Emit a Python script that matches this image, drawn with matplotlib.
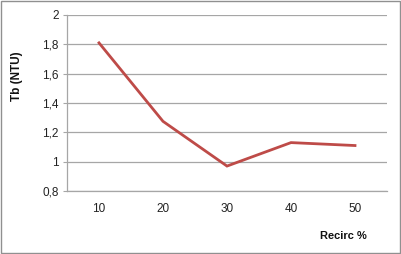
import matplotlib
matplotlib.use("Agg")
import matplotlib.pyplot as plt
from matplotlib.patches import Rectangle

# datos
recirc = ["10", "20", "30", "40", "50"]
tb = [1.81, 1.275, 0.97, 1.13, 1.11]
y_ticks = [0.8, 1.0, 1.2, 1.4, 1.6, 1.8, 2.0]
y_labels = ["0,8", "1", "1,2", "1,4", "1,6", "1,8", "2"]

plt.rcParams['font.family'] = ['Liberation Sans', 'DejaVu Sans']

fig = plt.figure(figsize=(4.02, 2.54), dpi=100)
ax = fig.add_axes([67/402, 1 - 191/254, 320/402, 176/254])

x = list(range(len(recirc)))
ax.plot(x, tb, color="#BE4B48", linewidth=2.0, solid_joinstyle="miter")

ax.set_xlim(-0.5, len(recirc) - 0.5)
ax.set_ylim(0.8, 2.0)
ax.set_xticks(x)
ax.set_xticklabels(recirc, fontsize=8.5, color="#222222")
ax.set_yticks(y_ticks)
ax.set_yticklabels(y_labels, fontsize=8.5, color="#222222")
ax.grid(axis="y", color="#A6A6A6", linewidth=0.9)
ax.set_axisbelow(True)

for s in ["top", "right"]:
    ax.spines[s].set_visible(False)
for s in ["left", "bottom"]:
    ax.spines[s].set_color("#A6A6A6")
    ax.spines[s].set_linewidth(0.9)
ax.tick_params(axis="y", length=3, color="#A6A6A6", pad=3)
ax.tick_params(axis="x", length=0, pad=9)

fig.text(17/402, 1 - 76/254, "Tb (NTU)", rotation=90, fontsize=8.5, fontweight="bold",
         ha="center", va="center", color="#111111")
fig.text(343/402, 1 - 236/254, "Recirc %", fontsize=8, fontweight="bold",
         ha="center", va="center", color="#111111")

# borde del gráfico
fig.patches.append(Rectangle((0.002, 0.004), 0.993, 0.992, transform=fig.transFigure,
                             fill=False, edgecolor="#909090", linewidth=1.0))

fig.savefig("out.png", dpi=100)
